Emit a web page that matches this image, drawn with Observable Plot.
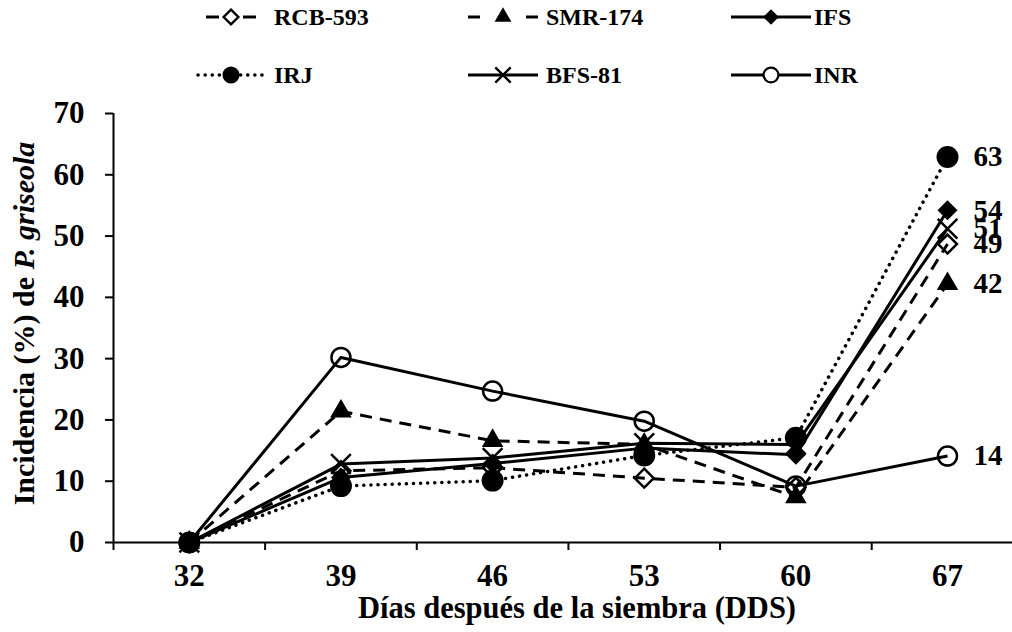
<!DOCTYPE html>
<html><head><meta charset="utf-8">
<script src="https://cdn.jsdelivr.net/npm/d3@7"></script>
<script src="https://cdn.jsdelivr.net/npm/@observablehq/plot@0.6"></script>
<style>
html,body{margin:0;padding:0;background:#fff;}
#chart{width:1012px;height:632px;overflow:hidden;font-family:"Liberation Serif","Times New Roman",serif;}
#chart svg{display:block;}
</style></head><body><div id="chart"></div>
<script>
// ---- data ----
const days = [32, 39, 46, 53, 60, 67];
const seriesNames = ["RCB-593", "SMR-174", "IFS", "IRJ", "BFS-81", "INR"];
const rcb593 = [0, 11.7, 12.2, 10.5, 9.0, 48.7];
const smr174 = [0, 21.4, 16.6, 16.0, 7.4, 42.2];
const ifs    = [0, 10.6, 12.9, 15.4, 14.3, 54.2];
const irj    = [0, 9.2, 10.1, 14.2, 17.1, 62.9];
const bfs81  = [0, 12.8, 13.8, 16.2, 16.0, 51.2];
const inr    = [0, 30.2, 24.7, 19.8, 9.2, 14.1];
const endLabels = ["49", "42", "54", "63", "51", "14"];
const yTicks = [0, 10, 20, 30, 40, 50, 60, 70];
const xTitle = "Días después de la siembra (DDS)";
const yTitleMain = "Incidencia (%) de ";
const yTitleItalic = "P. griseola";

const seriesValues = [rcb593, smr174, ifs, irj, bfs81, inr];

// ---- styles ----
const FONT = '"Liberation Serif","Times New Roman",serif';
const styles = {
  "RCB-593": {symbol: "diamond2", fill: "none", stroke: "black", r: 8.5, dash: "12,8", cap: "butt", leg: [[-25, -12], [12, 25]]},
  "SMR-174": {symbol: "triangle", fill: "black", stroke: "none", r: 8, dash: "12,8", cap: "butt", leg: [[-35, -23], [23, 35]]},
  "IFS":     {symbol: "diamond2", fill: "black", stroke: "none", r: 9, dash: null, cap: "butt", leg: [[-40, 40]]},
  "IRJ":     {symbol: "circle", fill: "black", stroke: "none", r: 11, dash: "0.1,7", cap: "round", leg: [[-33, 33]]},
  "BFS-81":  {symbol: "times", fill: "none", stroke: "black", r: 9, dash: null, cap: "butt", leg: [[-35, 35]]},
  "INR":     {symbol: "circle", fill: "none", stroke: "black", r: 9.5, dash: null, cap: "butt", leg: [[-40, 40]]}
};

const rows = [];
seriesNames.forEach((s, i) => seriesValues[i].forEach((v, j) => rows.push({series: s, day: days[j], value: v})));
const endRows = seriesNames.map((s, i) => ({series: s, day: days[days.length - 1], value: seriesValues[i][days.length - 1], label: endLabels[i]}));

const W = 1012, H = 632, LEG_H = 90, PLOT_H = H - LEG_H;
const bounds = [days[0] - 3.5].concat(d3.range(days.length - 1).map(i => (days[i] + days[i + 1]) / 2));

// ---- legend ----
const chart = document.getElementById("chart");
const leg = d3.select(chart).append("svg").attr("width", W).attr("height", LEG_H)
  .style("font-family", FONT);
const colX = [231, 503, 771];
const rowY = [17, 75];
const symMap = {diamond2: d3.symbolDiamond2, triangle: d3.symbolTriangle, circle: d3.symbolCircle, times: d3.symbolTimes};
seriesNames.forEach((s, i) => {
  const st = styles[s];
  const cx = colX[i % 3], cy = rowY[Math.floor(i / 3)];
  const g = leg.append("g").attr("transform", `translate(${cx},${cy})`);
  st.leg.forEach(([a, b]) => {
    const ln = g.append("line").attr("x1", a).attr("x2", b).attr("y1", 0).attr("y2", 0)
      .attr("stroke", "black").attr("stroke-width", st.cap === "round" ? 3.5 : 3)
      .attr("stroke-linecap", st.cap);
    if (st.cap === "round") ln.attr("stroke-dasharray", st.dash);
  });
  const rr = st.r * 0.78;
  if (st.symbol === "circle") {
    g.append("circle").attr("r", rr).attr("fill", st.fill === "none" ? "white" : st.fill)
      .attr("stroke", st.stroke).attr("stroke-width", 2.2);
  } else {
    g.append("path").attr("d", d3.symbol(symMap[st.symbol], Math.PI * rr * rr)())
      .attr("fill", st.fill === "none" ? "white" : st.fill).attr("stroke", st.stroke).attr("stroke-width", 2.4);
  }
  g.append("text").attr("x", 43).attr("y", 0).attr("dy", "0.35em")
    .attr("font-size", 24).attr("font-weight", "bold").text(s);
});

// ---- plot ----
const marks = [
  Plot.ruleY([0], {strokeWidth: 2}),
  Plot.ruleX([28.5], {strokeWidth: 2}),
  Plot.axisY({ticks: yTicks, tickSize: 8, tickPadding: 21, fontSize: 31, fontWeight: "bold", strokeWidth: 2, label: null, tickFormat: d => String(d)}),
  Plot.axisX({ticks: bounds, tickSize: 8, tickFormat: () => "", strokeWidth: 2, label: null}),
  Plot.axisX({ticks: days, tickSize: 0, tickPadding: 21, fontSize: 31, fontWeight: "bold", label: null, tickFormat: d => String(d)})
];
seriesNames.forEach(s => {
  const st = styles[s];
  marks.push(Plot.line(rows.filter(r => r.series === s), {
    x: "day", y: "value", stroke: "black", strokeWidth: st.cap === "round" ? 3.5 : 3,
    strokeDasharray: st.dash || undefined, strokeLinecap: st.cap, strokeLinejoin: "round"
  }));
});
seriesNames.forEach(s => {
  const st = styles[s];
  marks.push(Plot.dot(rows.filter(r => r.series === s), {
    x: "day", y: "value", symbol: () => st.symbol, r: st.r,
    fill: st.fill, stroke: st.stroke === "none" ? undefined : st.stroke, strokeWidth: 2.5
  }));
});
marks.push(Plot.text(endRows, {x: "day", y: "value", text: "label", dx: 26, textAnchor: "start", fontSize: 29, fontWeight: "bold"}));
marks.push(Plot.text([xTitle], {frameAnchor: "bottom", dy: 75, dx: 14, fontSize: 30.5, fontWeight: "bold"}));

const plot = Plot.plot({
  width: W, height: PLOT_H,
  marginLeft: 113, marginRight: 0, marginTop: 23, marginBottom: 90,
  style: {fontFamily: FONT, color: "black", background: "white", overflow: "visible"},
  x: {type: "linear", domain: [28.5, 70.0]},
  y: {domain: [0, 70]},
  marks
});
chart.appendChild(plot);

// rotated y title with italic species name
const ys = plot.scale("y");
const yc = (ys.apply(0) + ys.apply(70)) / 2 - 4;
const yt = d3.select(plot).append("text")
  .attr("transform", `translate(23,${yc}) rotate(-90)`)
  .attr("text-anchor", "middle").attr("dy", "0.35em")
  .attr("font-size", 30).attr("font-weight", "bold").attr("font-family", FONT).attr("fill", "black");
yt.append("tspan").text(yTitleMain);
yt.append("tspan").attr("font-style", "italic").text(yTitleItalic);
</script>
</body></html>
